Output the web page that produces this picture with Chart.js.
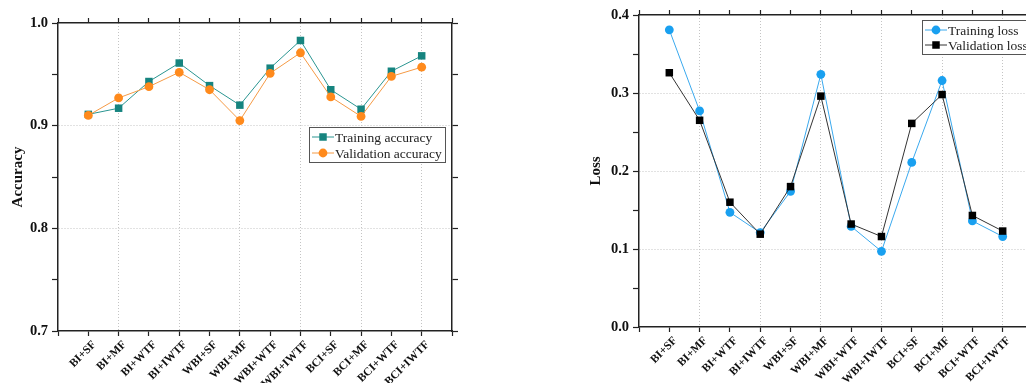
<!DOCTYPE html>
<html>
<head>
<meta charset="utf-8">
<script src="https://cdn.jsdelivr.net/npm/chart.js@4.4.1/dist/chart.umd.min.js"></script>
<style>
  html, body { margin: 0; padding: 0; background: #fff; overflow: hidden; width: 1026px; height: 383px; }
  #acc { position: absolute; left: 0; top: 0; }
  #loss { position: absolute; left: 540px; top: 0; }
</style>
</head>
<body>
<canvas id="acc" width="470" height="383"></canvas>
<canvas id="loss" width="520" height="383"></canvas>
<script>
const categories = ["BI+SF", "BI+MF", "BI+WTF", "BI+IWTF", "WBI+SF", "WBI+MF",
  "WBI+WTF", "WBI+IWTF", "BCI+SF", "BCI+MF", "BCI+WTF", "BCI+IWTF"];

const trainAcc = [0.911, 0.917, 0.943, 0.961, 0.939, 0.920, 0.956, 0.983, 0.935, 0.916, 0.953, 0.968];
const valAcc   = [0.910, 0.927, 0.938, 0.952, 0.935, 0.905, 0.951, 0.971, 0.928, 0.909, 0.948, 0.957];

const trainLoss = [0.381, 0.277, 0.147, 0.121, 0.174, 0.324, 0.129, 0.097, 0.211, 0.316, 0.136, 0.116];
const valLoss   = [0.326, 0.265, 0.160, 0.119, 0.180, 0.296, 0.132, 0.116, 0.261, 0.298, 0.143, 0.123];

const accRange = [0.7, 1.0];
const lossRange = [0.0, 0.4];

const SERIF = "'Liberation Serif', 'Times New Roman', serif";
const GRID = "#c4c4c4";
const NONE = "rgba(0,0,0,0)";
const isMajor = (v, step) => Math.abs(v / step - Math.round(v / step)) < 1e-6;
const toPoints = arr => arr.map((v, i) => ({ x: i + 1, y: v }));

// legend box drawn inside the plot area
const boxLegend = {
  id: "boxLegend",
  afterDatasetsDraw(chart, args, opts) {
    const { ctx, chartArea } = chart;
    const x0 = Math.round(chartArea.left + opts.left), y0 = Math.round(chartArea.top + opts.top);
    ctx.save();
    ctx.fillStyle = "#fff";
    ctx.fillRect(x0, y0, opts.width, opts.height);
    ctx.strokeStyle = "#555";
    ctx.lineWidth = 1;
    ctx.strokeRect(x0 + 0.5, y0 + 0.5, opts.width, opts.height);
    chart.data.datasets.forEach((ds, i) => {
      const yy = y0 + opts.rows[i];
      ctx.strokeStyle = ds.borderColor;
      ctx.lineWidth = 1;
      ctx.beginPath();
      ctx.moveTo(x0 + 3, yy);
      ctx.lineTo(x0 + 25, yy);
      ctx.stroke();
      ctx.fillStyle = ds.pointBackgroundColor;
      ctx.beginPath();
      if (ds.pointStyle === "rect") {
        const s = ds.pointRadius * Math.SQRT1_2;
        ctx.rect(x0 + 14 - s, yy - s, 2 * s, 2 * s);
      } else {
        ctx.arc(x0 + 14, yy, ds.pointRadius, 0, Math.PI * 2);
      }
      ctx.fill();
      ctx.fillStyle = "#222";
      ctx.font = "13.5px " + SERIF;
      ctx.textBaseline = "middle";
      ctx.textAlign = "left";
      ctx.fillText(ds.label, x0 + 26, yy + 1);
    });
    ctx.restore();
  }
};

function xAxis(pos, size) {
  const max = categories.length + 1;
  return {
    type: "linear", axis: "x", position: pos, min: 0, max: max,
    afterFit: s => { s.height = size; },
    border: { color: "#222", width: 1.5, dash: [1, 2] },
    grid: {
      drawOnChartArea: pos === "bottom",
      color: c => (c.tick && c.tick.value > 0 && c.tick.value < max && c.tick.value % 2 === 0 ? GRID : NONE),
      lineWidth: 1,
      tickColor: "#222", tickLength: 5, tickWidth: 1.2, tickBorderDash: []
    },
    ticks: {
      display: pos === "bottom", stepSize: 1, autoSkip: false,
      minRotation: 45, maxRotation: 45, padding: 2, labelOffset: 6, color: "#111",
      font: { family: SERIF, weight: "bold", size: 11.5 },
      callback: v => categories[v - 1] || ""
    }
  };
}

function yAxis(pos, size, range, title, titlePad) {
  return {
    type: "linear", axis: "y", position: pos, min: range[0], max: range[1],
    afterFit: s => { s.width = size; },
    border: { color: "#222", width: 1.5, dash: [1, 2] },
    grid: {
      drawOnChartArea: pos === "left",
      color: c => (c.tick && isMajor(c.tick.value, 0.1) && c.tick.value > range[0] + 1e-6 && c.tick.value < range[1] - 1e-6 ? GRID : NONE),
      lineWidth: 1,
      tickColor: "#222", tickLength: 6, tickWidth: 1.2, tickBorderDash: []
    },
    ticks: {
      display: pos === "left", stepSize: 0.05, padding: 4, color: "#111",
      font: { family: SERIF, weight: "bold", size: 14.5 },
      callback: v => (isMajor(v, 0.1) ? v.toFixed(1) : "")
    },
    title: {
      display: pos === "left", text: title, color: "#111",
      font: { family: SERIF, weight: "bold", size: 15 },
      padding: { top: titlePad, bottom: 0 }
    }
  };
}

function series(label, data, color, lineColor, style, radius, order) {
  return {
    label: label, data: toPoints(data), order: order,
    borderColor: lineColor, borderWidth: 1,
    pointStyle: style, pointRadius: radius, pointHoverRadius: radius,
    pointBackgroundColor: color, pointBorderWidth: 0,
    tension: 0, fill: false
  };
}

function makeChart(id, datasets, opts) {
  return new Chart(document.getElementById(id), {
    type: "line",
    data: { datasets: datasets },
    options: {
      responsive: false, animation: false, devicePixelRatio: 1,
      layout: { padding: { left: opts.padLeft, top: 0, right: 0, bottom: 0 } },
      scales: {
        x: xAxis("bottom", opts.bottom),
        x2: xAxis("top", opts.top),
        y: yAxis("left", opts.left, opts.range, opts.title, opts.titlePad),
        y2: yAxis("right", opts.right, opts.range, "", 0)
      },
      plugins: {
        legend: { display: false },
        tooltip: { enabled: false },
        boxLegend: opts.legend
      }
    },
    plugins: [boxLegend]
  });
}

makeChart("acc", [
  series("Training accuracy", trainAcc, "#16847f", "#2a9591", "rect", 5.3, 1),
  series("Validation accuracy", valAcc, "#ff8a1c", "#f59a45", "circle", 4.4, 0)
], {
  padLeft: 0, left: 58, right: 18, top: 23, bottom: 52, range: accRange,
  title: "Accuracy", titlePad: 9,
  legend: { left: 251, top: 104, width: 136, height: 35, rows: [10, 26] }
});

makeChart("loss", [
  series("Training loss", trainLoss, "#19a0f0", "#3aa9ee", "circle", 4.4, 1),
  series("Validation loss", valLoss, "#000000", "#333333", "rect", 5.3, 0)
], {
  padLeft: 40, left: 59, right: 27, top: 15, bottom: 56, range: lossRange,
  title: "Loss", titlePad: 7,
  legend: { left: 283, top: 5, width: 116, height: 34, rows: [10, 25] }
});
</script>
</body>
</html>
